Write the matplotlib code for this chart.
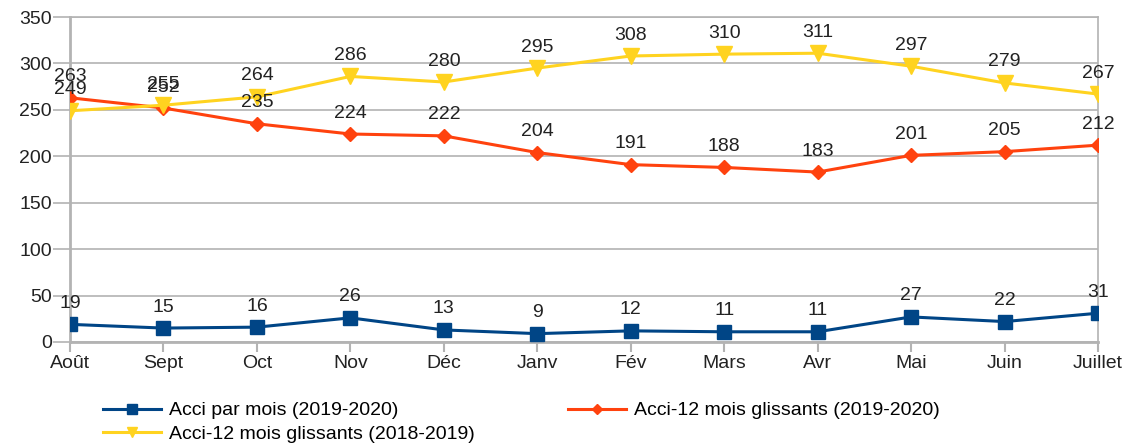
import numpy as np
import matplotlib.pyplot as plt

plt.rcParams['font.family'] = ['Liberation Sans', 'DejaVu Sans']

mois = ['Août', 'Sept', 'Oct', 'Nov', 'Déc', 'Janv', 'Fév', 'Mars', 'Avr', 'Mai', 'Juin', 'Juillet']
acci_mois = [19, 15, 16, 26, 13, 9, 12, 11, 11, 27, 22, 31]
glissants_1920 = [263, 252, 235, 224, 222, 204, 191, 188, 183, 201, 205, 212]
glissants_1819 = [249, 255, 264, 286, 280, 295, 308, 310, 311, 297, 279, 267]

fig = plt.figure(figsize=(11.36, 4.46), dpi=100)
ax = fig.add_axes([70 / 1136, 1 - 342 / 446, 1028 / 1136, 325 / 446])

x = np.arange(len(mois))
grey = '#b3b3b3'

l1, = ax.plot(x, acci_mois, color='#004586', lw=2.2, marker='s', ms=10.5,
              label='Acci par mois (2019-2020)', zorder=3)
l2, = ax.plot(x, glissants_1920, color='#ff420e', lw=2.2, marker='D', ms=7.5,
              label='Acci-12 mois glissants (2019-2020)', zorder=3)
l3, = ax.plot(x, glissants_1819, color='#ffd320', lw=2.2, marker='v', ms=11,
              label='Acci-12 mois glissants (2018-2019)', zorder=3)

for serie in (acci_mois, glissants_1920, glissants_1819):
    for xi, v in zip(x, serie):
        ax.annotate(str(v), (xi, v), xytext=(0, 9), textcoords='offset points',
                    ha='center', va='bottom', fontsize=14, color='#222222')

ax.set_xlim(0, len(mois) - 1)
ax.set_ylim(0, 350)
ax.set_yticks(range(0, 351, 50))
ax.set_xticks(x)
ax.set_xticklabels(mois)
ax.tick_params(axis='both', labelsize=14, colors=grey, labelcolor='#222222')
ax.tick_params(axis='x', length=7, width=1.5, direction='out', pad=2)
ax.tick_params(axis='y', length=12, width=1.2, pad=1)
ax.grid(axis='y', color=grey, lw=1.2)
for s in ax.spines.values():
    s.set_color(grey)
    s.set_linewidth(1.2)
ax.spines['left'].set_linewidth(2)
ax.spines['bottom'].set_linewidth(2)

# ordre des colonnes : bleu + jaune a gauche, orange a droite
fig.legend(handles=[l1, l3, l2], loc='upper left', bbox_to_anchor=(95 / 1136, 1 - 394 / 446),
           ncol=2, frameon=False, fontsize=14, handlelength=3.0, columnspacing=4.8,
           handletextpad=0.4, labelspacing=0.3, markerscale=0.7, borderaxespad=0)

fig.savefig('out.png', dpi=100)
